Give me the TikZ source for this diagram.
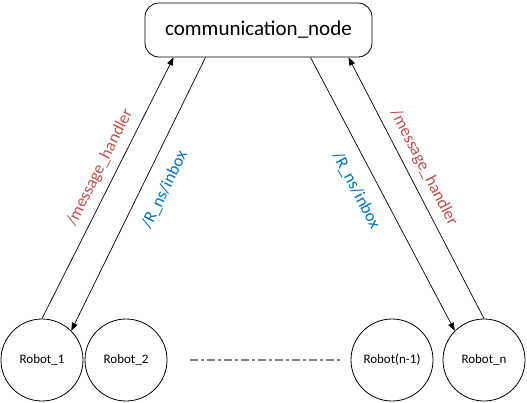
\documentclass[tikz,border=0pt]{standalone}
\usepackage{fontspec}
\setmainfont{Carlito}
\usetikzlibrary{calc,arrows.meta}
\definecolor{topicred}{RGB}{192,80,77}
\definecolor{topicblue}{RGB}{0,112,192}
\tikzset{
    robot/.style={draw,circle,minimum size=82pt,inner sep=0pt,line width=0.8pt,font=\fontsize{13}{15}\selectfont},
    hub/.style={draw,rectangle,rounded corners=14pt,minimum width=227pt,minimum height=54pt,line width=0.8pt,font=\fontsize{21}{25}\selectfont},
    link/.style={line width=0.7pt,-{Triangle[length=8pt,width=6pt]}},
    topic/.style={sloped,font=\fontsize{17}{20}\selectfont},
  }
\begin{document}
\begin{tikzpicture}[x=1pt,y=-1pt]
				  %cadre
				  \useasboundingbox (0,0) rectangle (527,402);
				  %noeuds
				  \node[hub] (comm) at (258.5,30) {communication\_node};
				  \node[robot] (r1) at (42,360) {Robot\_1};
				  \node[robot] (r2) at (126,360) {Robot\_2};
				  \node[robot] (rn1) at (392,360) {Robot(n-1)};
				  \node[robot] (rn) at (484,360) {Robot\_n};
				  %points d'attache sur la boite
				  \coordinate (c1) at ($(comm.south)+(-85,0)$);
				  \coordinate (c2) at ($(comm.south)+(-53,0)$);
				  \coordinate (c3) at ($(comm.south)+(52,0)$);
				  \coordinate (c4) at ($(comm.south)+(90,0)$);
				  %fleches
				  \draw[link] (r1.90) -- (c1) node[topic,pos=0.55,above=5pt,text=topicred] {/message\_handler};
				  \draw[link] (c2) -- (r1.45) node[topic,pos=0.45,below=11pt,text=topicblue] {/R\_ns/inbox};
				  \draw[link] (c3) -- (rn.135) node[topic,pos=0.45,below=11pt,text=topicblue] {/R\_ns/inbox};
				  \draw[link] (rn.90) -- (c4) node[topic,pos=0.55,above=5pt,text=topicred] {/message\_handler};
				  %les autres robots
				  \draw[gray,line width=1.2pt,dash pattern=on 8pt off 3pt on 3pt off 3pt] ($(r2.east)+(23,0)$) -- ($(rn1.west)+(-11,0)$);
\end{tikzpicture}
\end{document}
